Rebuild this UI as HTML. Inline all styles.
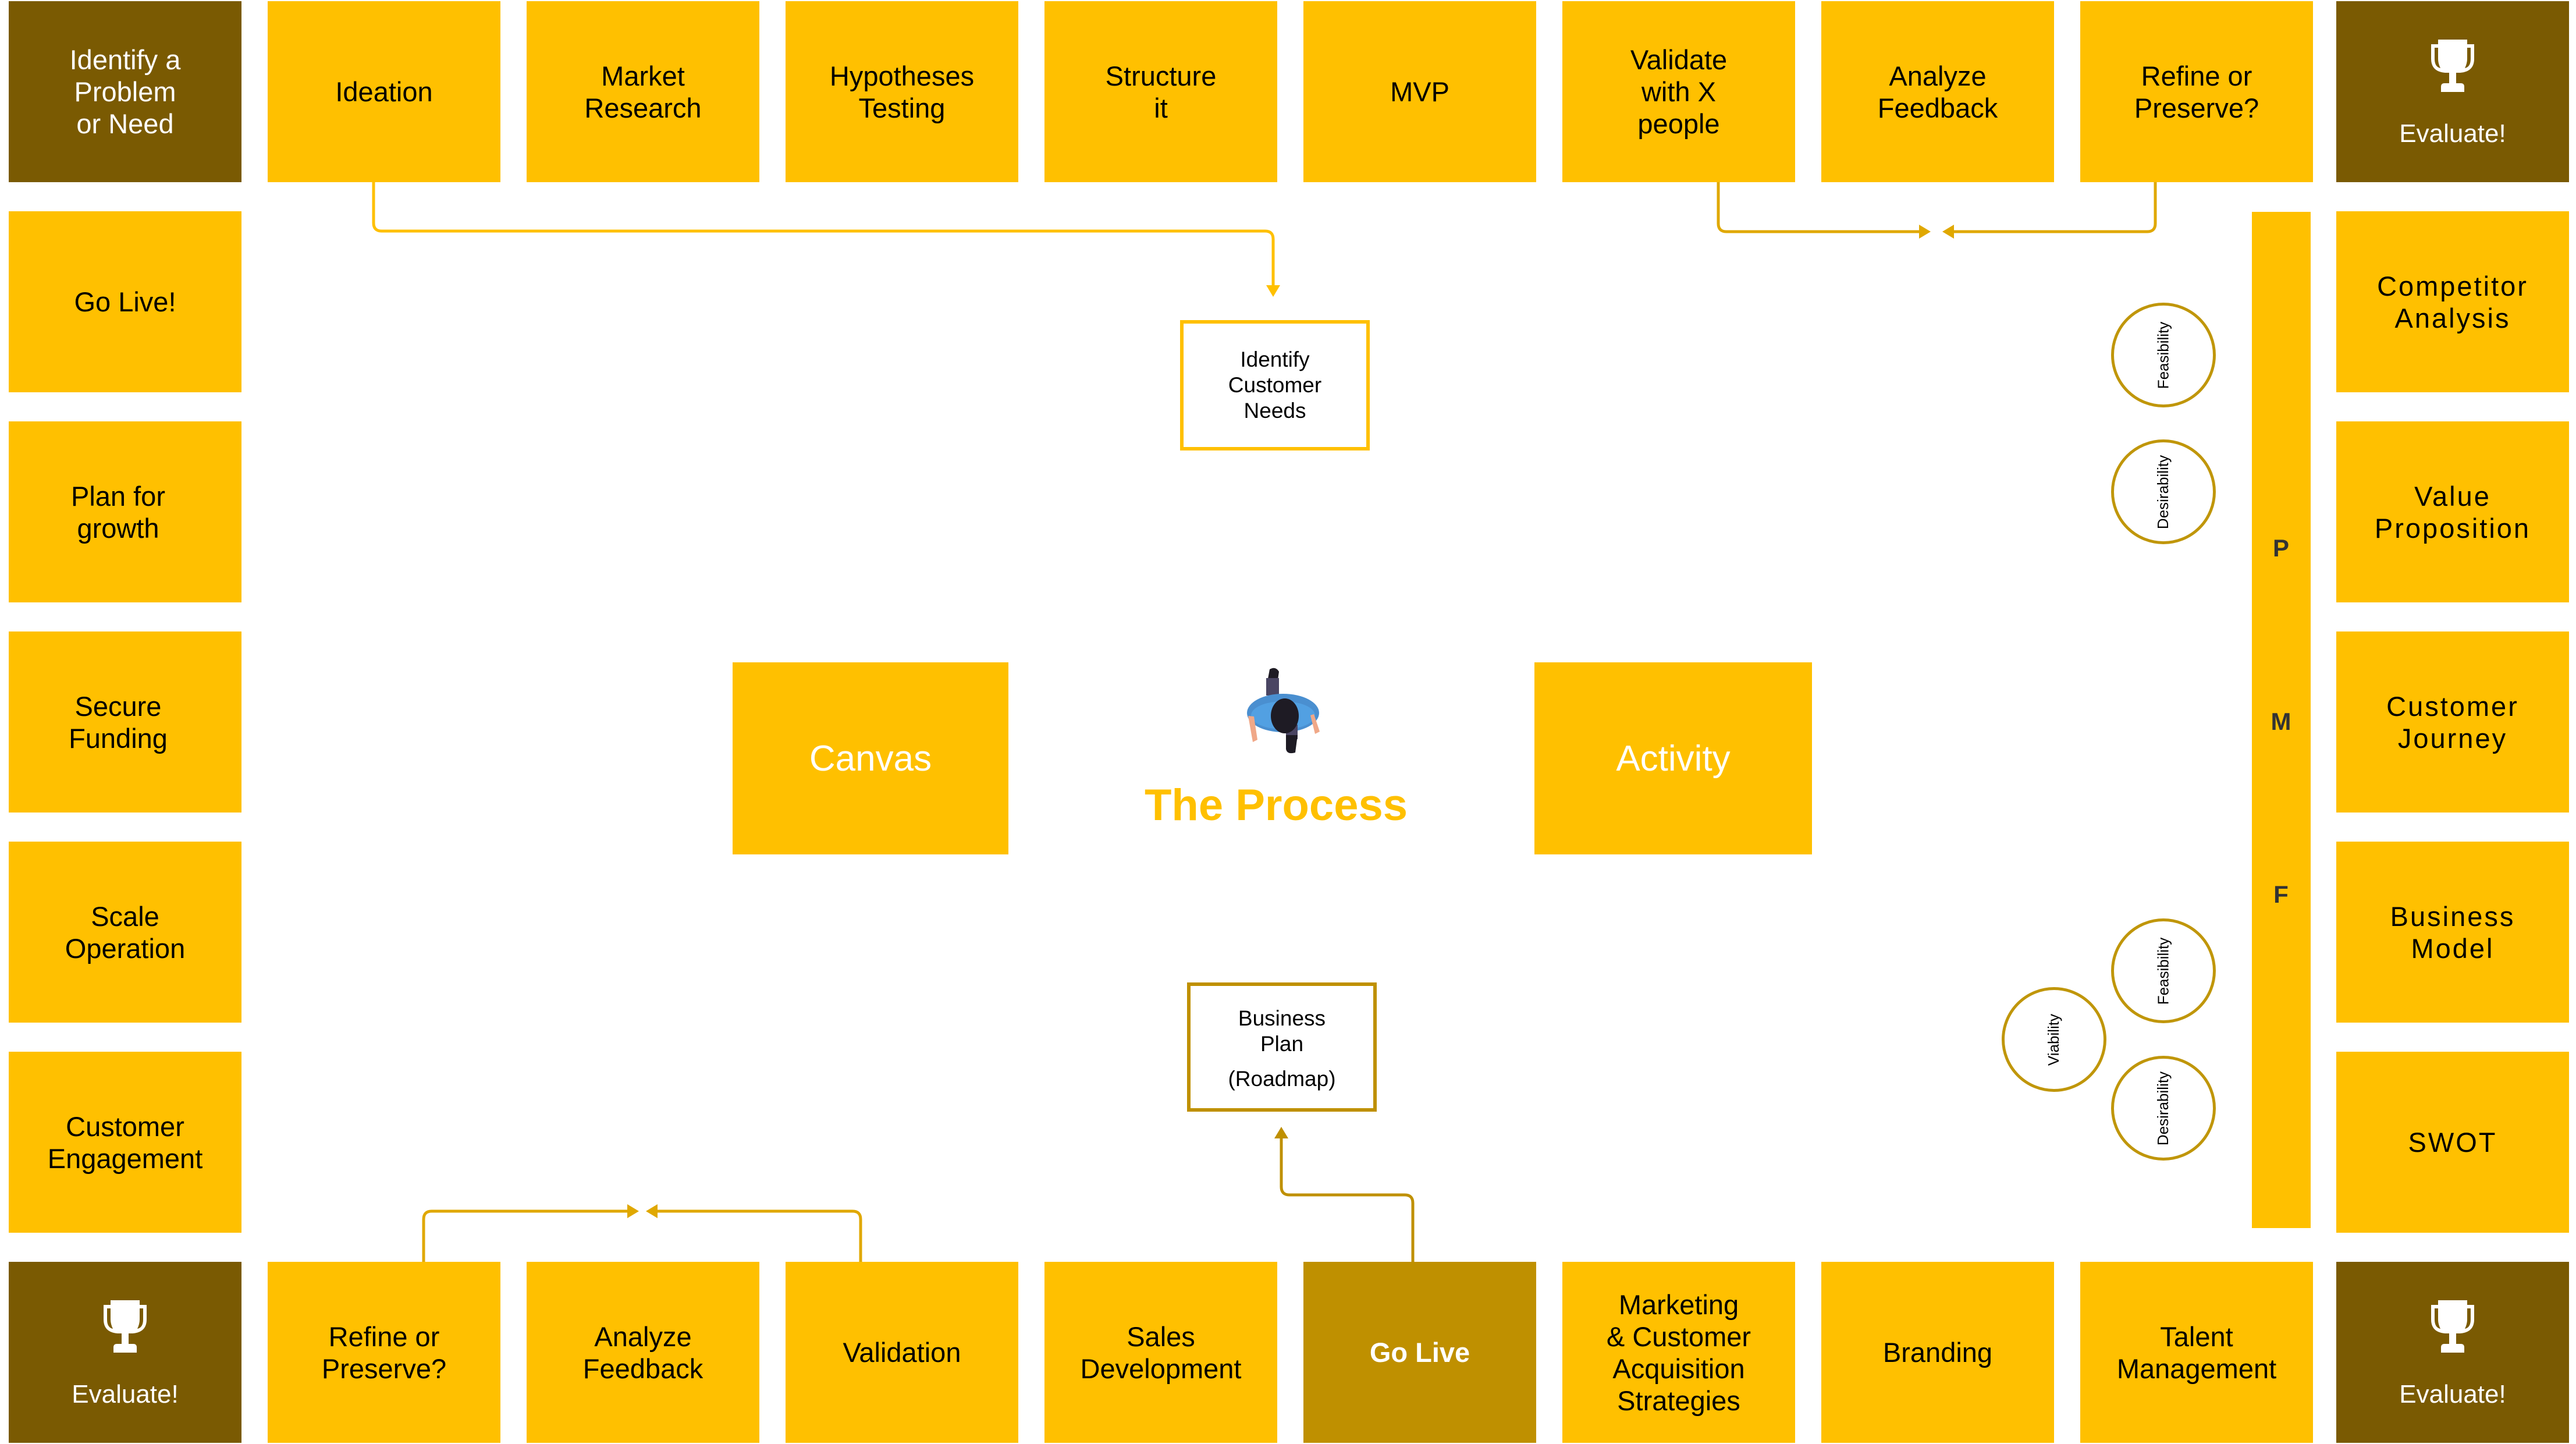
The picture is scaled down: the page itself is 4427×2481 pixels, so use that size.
<!DOCTYPE html>
<html><head><meta charset="utf-8"><style>
body{margin:0;width:4427px;height:2481px;background:#fff;position:relative;overflow:hidden;font-family:"Liberation Sans",sans-serif}
.b{position:absolute;width:400px;height:311px;background:#FFC000;display:flex;align-items:center;justify-content:center;text-align:center;font-size:47px;line-height:55px;color:#000}
.d{background:#7A5A02;color:#fff}
.r{letter-spacing:3px}
.ev{flex-direction:column;justify-content:flex-start}
.ev svg{margin-top:66px}
.ev span{margin-top:44px;font-size:44px}
.c{position:absolute;width:170px;height:170px;border:5px solid #C0960A;border-radius:50%;display:flex;align-items:center;justify-content:center}
.c span{transform:rotate(-90deg);font-family:"Liberation Sans Narrow","Liberation Sans",sans-serif;font-size:26px;white-space:nowrap}
.l{position:absolute;font-weight:bold;font-size:42px;color:#333;width:100px;text-align:center;left:3870px}
</style></head><body>
<!-- top row -->
<div class="b d" style="left:15px;top:2px">Identify a<br>Problem<br>or Need</div>
<div class="b" style="left:460px;top:2px">Ideation</div>
<div class="b" style="left:905px;top:2px">Market<br>Research</div>
<div class="b" style="left:1350px;top:2px">Hypotheses<br>Testing</div>
<div class="b" style="left:1795px;top:2px">Structure<br>it</div>
<div class="b" style="left:2240px;top:2px">MVP</div>
<div class="b" style="left:2685px;top:2px">Validate<br>with X<br>people</div>
<div class="b" style="left:3130px;top:2px">Analyze<br>Feedback</div>
<div class="b" style="left:3575px;top:2px">Refine or<br>Preserve?</div>
<div class="b d ev" style="left:4015px;top:2px"><svg width="80" height="90" viewBox="0 0 80 90"><path d="M15 0h50v8h12v25q0 22-24 24h-7v18h8q6 0 6 6v9H20v-9q0-6 6-6h8V57h-7Q3 55 3 33V8h12z M9 14v19q0 14 10 16q-4-8-4-16V14z M71 14h-6v19q0 8-4 16q10-2 10-16z" fill="#fff" fill-rule="evenodd"/></svg><span>Evaluate!</span></div>
<!-- left column -->
<div class="b" style="left:15px;top:363px">Go Live!</div>
<div class="b" style="left:15px;top:724px;padding-right:24px;box-sizing:border-box">Plan for<br>growth</div>
<div class="b" style="left:15px;top:1085px;padding-right:24px;box-sizing:border-box">Secure<br>Funding</div>
<div class="b" style="left:15px;top:1446px">Scale<br>Operation</div>
<div class="b" style="left:15px;top:1807px">Customer<br>Engagement</div>
<!-- right column -->
<div class="b r" style="left:4015px;top:363px">Competitor<br>Analysis</div>
<div class="b r" style="left:4015px;top:724px">Value<br>Proposition</div>
<div class="b r" style="left:4015px;top:1085px">Customer<br>Journey</div>
<div class="b r" style="left:4015px;top:1446px">Business<br>Model</div>
<div class="b r" style="left:4015px;top:1807px">SWOT</div>
<!-- bottom row -->
<div class="b d ev" style="left:15px;top:2168px"><svg width="80" height="90" viewBox="0 0 80 90"><path d="M15 0h50v8h12v25q0 22-24 24h-7v18h8q6 0 6 6v9H20v-9q0-6 6-6h8V57h-7Q3 55 3 33V8h12z M9 14v19q0 14 10 16q-4-8-4-16V14z M71 14h-6v19q0 8-4 16q10-2 10-16z" fill="#fff" fill-rule="evenodd"/></svg><span>Evaluate!</span></div>
<div class="b" style="left:460px;top:2168px">Refine or<br>Preserve?</div>
<div class="b" style="left:905px;top:2168px">Analyze<br>Feedback</div>
<div class="b" style="left:1350px;top:2168px">Validation</div>
<div class="b" style="left:1795px;top:2168px">Sales<br>Development</div>
<div class="b" style="left:2240px;top:2168px;background:#BF9000;color:#fff;font-weight:bold">Go Live</div>
<div class="b" style="left:2685px;top:2168px">Marketing<br>&amp; Customer<br>Acquisition<br>Strategies</div>
<div class="b" style="left:3130px;top:2168px">Branding</div>
<div class="b" style="left:3575px;top:2168px">Talent<br>Management</div>
<div class="b d ev" style="left:4015px;top:2168px"><svg width="80" height="90" viewBox="0 0 80 90"><path d="M15 0h50v8h12v25q0 22-24 24h-7v18h8q6 0 6 6v9H20v-9q0-6 6-6h8V57h-7Q3 55 3 33V8h12z M9 14v19q0 14 10 16q-4-8-4-16V14z M71 14h-6v19q0 8-4 16q10-2 10-16z" fill="#fff" fill-rule="evenodd"/></svg><span>Evaluate!</span></div>
<!-- PMF bar -->
<div style="position:absolute;left:3870px;top:364px;width:101px;height:1746px;background:#FFC000"></div>
<div class="l" style="top:918px">P</div>
<div class="l" style="top:1216px">M</div>
<div class="l" style="top:1513px">F</div>
<!-- circles -->
<div class="c" style="left:3628px;top:520px"><span>Feasibility</span></div>
<div class="c" style="left:3628px;top:755px"><span>Desirability</span></div>
<div class="c" style="left:3628px;top:1578px"><span>Feasibility</span></div>
<div class="c" style="left:3628px;top:1814px"><span>Desirability</span></div>
<div class="c" style="left:3440px;top:1696px"><span>Viability</span></div>
<!-- center -->
<div class="b" style="left:1259px;top:1138px;width:474px;height:330px;color:#fff;font-size:62px">Canvas</div>
<div class="b" style="left:2637px;top:1138px;width:477px;height:330px;color:#fff;font-size:62px">Activity</div>
<div style="position:absolute;left:2028px;top:550px;width:314px;height:212px;border:6px solid #FFC000;display:flex;align-items:center;justify-content:center;text-align:center;font-size:37px;line-height:44px">Identify<br>Customer<br>Needs</div>
<div style="position:absolute;left:2040px;top:1688px;width:314px;height:210px;border:6px solid #BF9000;text-align:center;font-size:37px;line-height:44px"><div style="padding-top:34px">Business<br>Plan<br><div style="margin-top:16px">(Roadmap)</div></div></div>
<div style="position:absolute;left:1893px;top:1340px;width:600px;text-align:center;font-weight:bold;font-size:76px;color:#FFC000">The Process</div>
<svg style="position:absolute;left:2140px;top:1145px" width="140" height="150" viewBox="0 0 140 150">
<path d="M42 5q10-6 16 4l-4 28h-18z" fill="#1e1b24"/><rect x="36" y="20" width="22" height="30" fill="#4a4563"/>
<ellipse cx="65" cy="80" rx="62" ry="33" fill="#4a8fd0"/><ellipse cx="65" cy="84" rx="55" ry="24" fill="#52a0e2"/>
<path d="M5 85l8 45 8-4-6-40z M118 82l10 30-8 4-8-32z" fill="#f0a888"/>
<rect x="70" y="100" width="20" height="25" fill="#4a4563"/><path d="M70 118h20l-4 30q-14 4-16-6z" fill="#1e1b24"/>
<ellipse cx="68" cy="85" rx="24" ry="30" fill="#1e1b24"/></svg>
<!-- connectors -->
<svg style="position:absolute;left:0;top:0" width="4427" height="2481">
<g fill="none" stroke-width="5">
<path d="M642 313V383q0 14 14 14H2174q14 0 14 14v80" stroke="#FFC000"/>
<path d="M2953 313V384q0 14 14 14H3300" stroke="#E0A800"/>
<path d="M3704 313V384q0 14-14 14H3356" stroke="#E0A800"/>
<path d="M728 2168V2095q0-14 14-14H1080" stroke="#E0A800"/>
<path d="M1479 2168V2095q0-14-14-14H1128" stroke="#E0A800"/>
<path d="M2428 2168V2067q0-14-14-14H2216q-14 0-14-14V1950" stroke="#BF9000"/>
</g>
<g>
<path d="M2176 490h24l-12 20z" fill="#FFC000"/>
<path d="M3298 386v24l20-12z" fill="#E0A800"/>
<path d="M3358 386v24l-20-12z" fill="#E0A800"/>
<path d="M1078 2069v24l20-12z" fill="#E0A800"/>
<path d="M1130 2069v24l-20-12z" fill="#E0A800"/>
<path d="M2190 1956h24l-12-20z" fill="#BF9000"/>
</g></svg>
</body></html>
